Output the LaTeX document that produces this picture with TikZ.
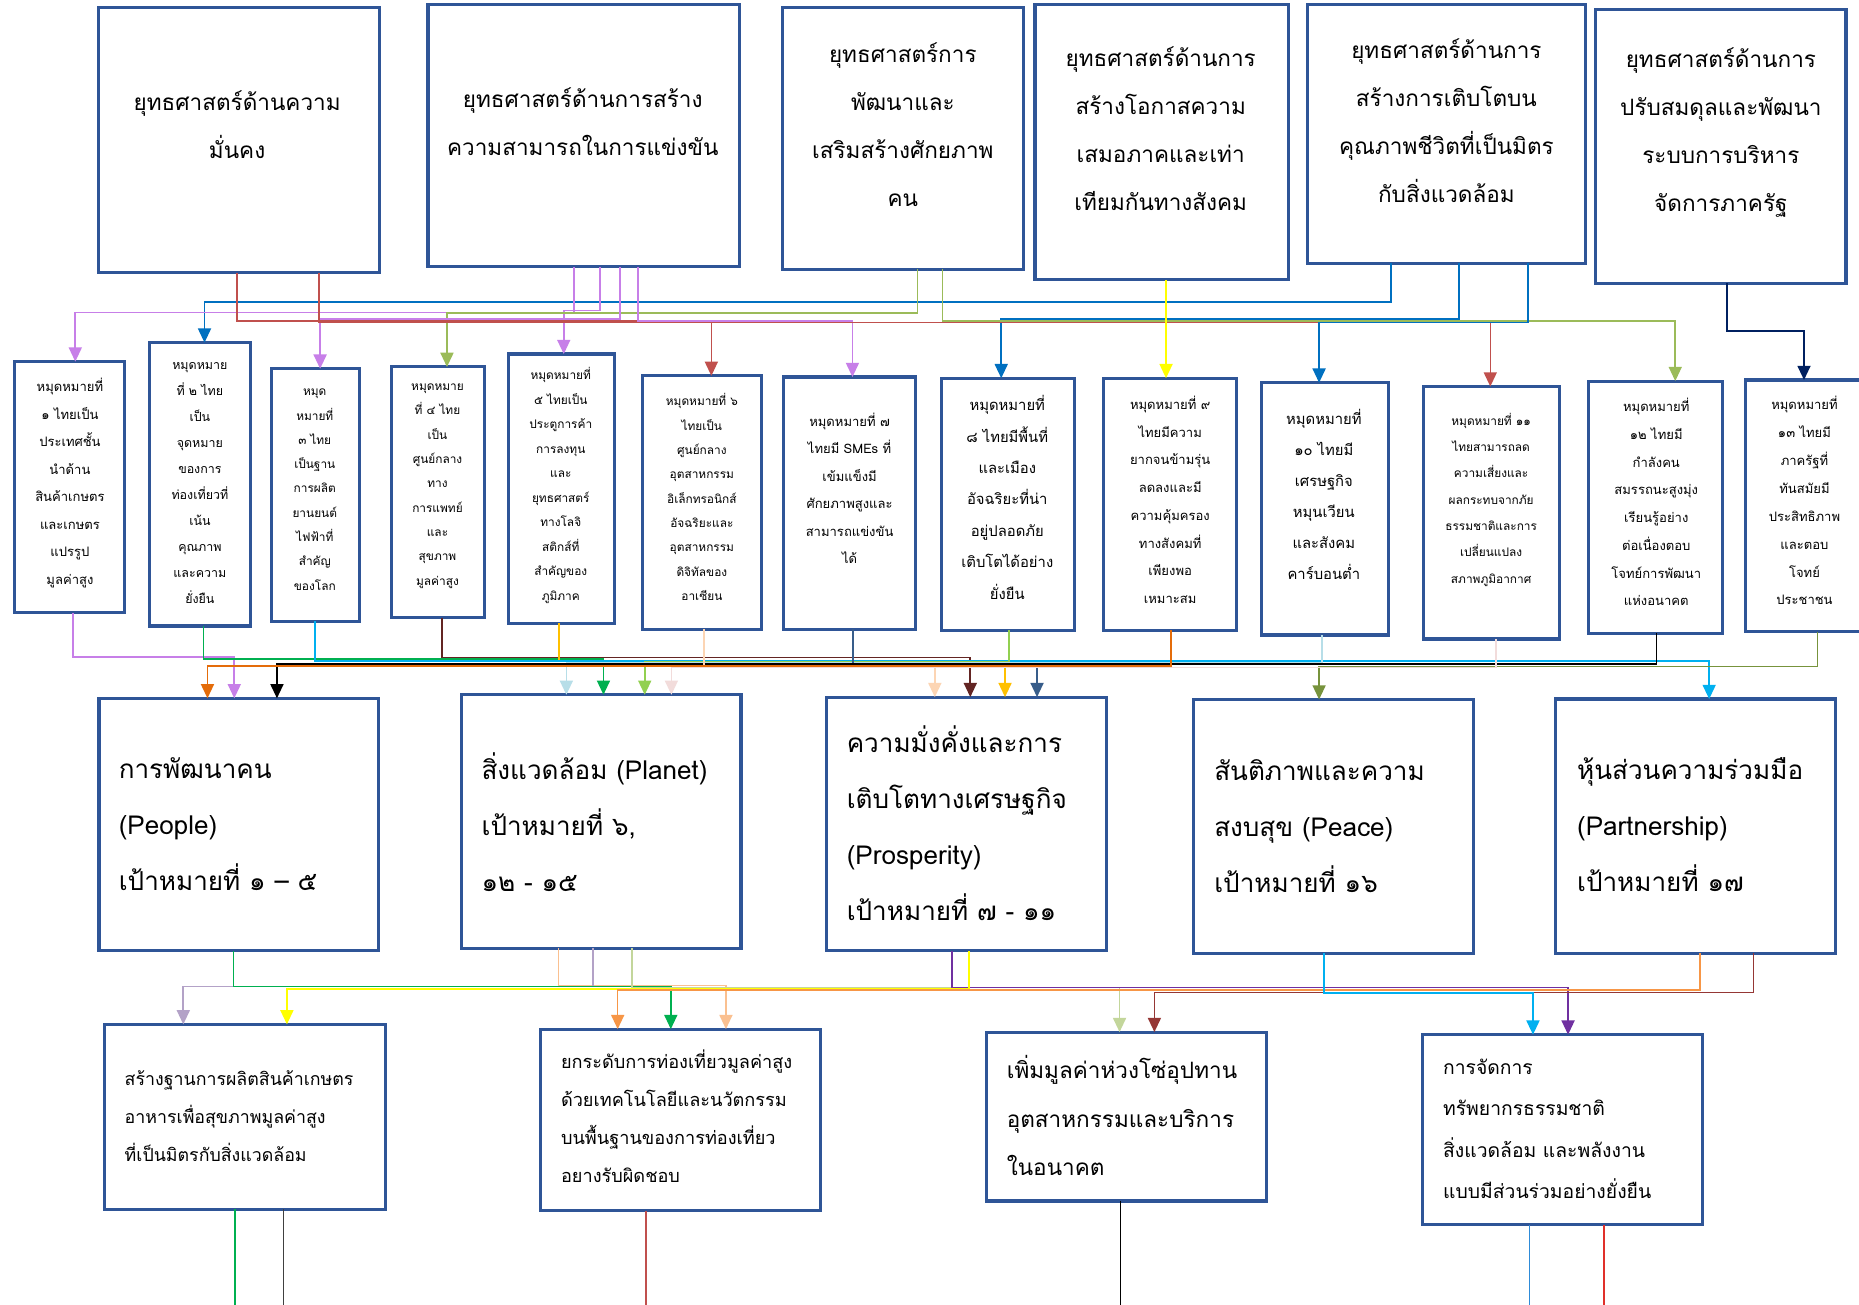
\documentclass[tikz,border=0pt]{standalone}
\usepackage{fontspec}
\newfontfamily\thai[Script=Thai]{Loma}
\usetikzlibrary{arrows.meta,fit}
\definecolor{boxc}{HTML}{2F5597}
\definecolor{cRed}{HTML}{C0504D}
\definecolor{cVio}{HTML}{C77FE8}
\definecolor{cBlue}{HTML}{0070C0}
\definecolor{cYel}{HTML}{FFFF00}
\definecolor{cGrn}{HTML}{9BBB59}
\definecolor{cNavy}{HTML}{002060}
\definecolor{cGreen}{HTML}{00B050}
\definecolor{cCyan}{HTML}{00B0F0}
\definecolor{cBrown}{HTML}{632523}
\definecolor{cGold}{HTML}{FFC000}
\definecolor{cPeach}{HTML}{FCD5B4}
\definecolor{cSteel}{HTML}{385D8A}
\definecolor{cLGreen}{HTML}{92D050}
\definecolor{cOrange}{HTML}{E46C0A}
\definecolor{cLBlue}{HTML}{B7DEE8}
\definecolor{cPink}{HTML}{F2DCDB}
\definecolor{cOlive}{HTML}{77933C}
\definecolor{cLav}{HTML}{B3A2C7}
\definecolor{cPeachB}{HTML}{FAC090}
\definecolor{cPaleG}{HTML}{C3D69B}
\definecolor{cOrangeB}{HTML}{F79646}
\definecolor{cPurple}{HTML}{7030A0}
\definecolor{cBrRed}{HTML}{953735}
\definecolor{cDark}{HTML}{404040}
\definecolor{cBlueB}{HTML}{2E8BD8}
\definecolor{cRedB}{HTML}{E0302A}
\newcommand\lk[6]{\draw[conn,color=#1] ([xshift=#3pt]#2.south west) |- (#5,#4) coordinate (lkm) -- (#6.north -| lkm);}
\begin{document}
\begin{tikzpicture}[x=1pt,y=-1pt,
  box/.style={draw=boxc,line width=2.6pt,inner sep=0pt,outer sep=0pt,fill=white},
  conn/.style={line width=1.35pt,-{Triangle[width=11pt,length=12pt]}},
  free/.style={line width=1.35pt},
  ttop/.style={font=\thai\fontsize{19}{40.5}\selectfont,align=center,inner sep=0pt},
  tmid/.style={font=\thai\fontsize{11}{23}\selectfont,align=center,inner sep=0pt},
  tpil/.style={font=\thai\fontsize{22}{47.2}\selectfont,align=left,inner sep=0pt,anchor=west},
  tbot/.style={font=\thai\fontsize{15}{32}\selectfont,align=left,inner sep=0pt,anchor=west}]
\fill[white] (0,0) rectangle (1568,1100);
\useasboundingbox (0,0) rectangle (1568,1100);
% top boxes
\node[box,fit={(83,6) (320,230)}] (T1) {};
\node[box,fit={(361,4) (624,225)}] (T2) {};
\node[box,fit={(660,6) (863,227)}] (T3) {};
\node[box,fit={(873,4) (1087,236)}] (T4) {};
\node[box,fit={(1103,4) (1337,222)}] (T5) {};
\node[box,fit={(1346,8) (1557,239)}] (T6) {};
\node[ttop] (T1t) at (200,105.5) {ยุทธศาสตร์ด้านความ\\มั่นคง};
\node[ttop] (T2t) at (491.5,102.5) {ยุทธศาสตร์ด้านการสร้าง\\ความสามารถในการแข่งขัน};
\node[ttop] (T3t) at (761.5,105) {ยุทธศาสตร์การ\\พัฒนาและ\\เสริมสร้างศักยภาพ\\คน};
\node[ttop] (T4t) at (979,108.5) {ยุทธศาสตร์ด้านการ\\สร้างโอกาสความ\\เสมอภาคและเท่า\\เทียมกันทางสังคม};
\node[ttop] (T5t) at (1220,102) {ยุทธศาสตร์ด้านการ\\สร้างการเติบโตบน\\คุณภาพชีวิตที่เป็นมิตร\\กับสิ่งแวดล้อม};
\node[ttop] (T6t) at (1451.5,112) {ยุทธศาสตร์ด้านการ\\ปรับสมดุลและพัฒนา\\ระบบการบริหาร\\จัดการภาครัฐ};
% middle boxes
\node[box,fit={(12,305) (105,517)}] (M1) {};
\node[box,fit={(126,289) (211,528)}] (M2) {};
\node[box,fit={(229,311) (303,524)}] (M3) {};
\node[box,fit={(330,309.5) (409,521)}] (M4) {};
\node[box,fit={(429,298.6) (518,525.7)}] (M5) {};
\node[box,fit={(542,317) (642,530.6)}] (M6) {};
\node[box,fit={(661,318) (772,530.6)}] (M7) {};
\node[box,fit={(794,319) (906,531.5)}] (M8) {};
\node[box,fit={(931,319) (1043,531.7)}] (M9) {};
\node[box,fit={(1064,322.8) (1171,535.6)}] (M10) {};
\node[box,fit={(1201,326) (1315,539)}] (M11) {};
\node[box,fit={(1340,321.4) (1453,534)}] (M12) {};
\node[box,fit={(1472,320.5) (1572,533)}] (M13) {};
\node[tmid,font=\thai\fontsize{11}{23.2}\selectfont] (M1t) at (59,407.5) {หมุดหมายที่\\๑ ไทยเป็น\\ประเทศชั้น\\นำด้าน\\สินค้าเกษตร\\และเกษตร\\แปรรูป\\มูลค่าสูง};
\node[tmid,font=\thai\fontsize{10.5}{21.9}\selectfont] (M2t) at (168.6,407.5) {หมุดหมาย\\ที่ ๒ ไทย\\เป็น\\จุดหมาย\\ของการ\\ท่องเที่ยวที่\\เน้น\\คุณภาพ\\และความ\\ยั่งยืน};
\node[tmid,font=\thai\fontsize{10}{20.5}\selectfont] (M3t) at (265.5,413) {หมุด\\หมายที่\\๓ ไทย\\เป็นฐาน\\การผลิต\\ยานยนต์\\ไฟฟ้าที่\\สำคัญ\\ของโลก};
\node[tmid,font=\thai\fontsize{10}{20.5}\selectfont] (M4t) at (369,410) {หมุดหมาย\\ที่ ๔ ไทย\\เป็น\\ศูนย์กลาง\\ทาง\\การแพทย์\\และ\\สุขภาพ\\มูลค่าสูง};
\node[tmid,font=\thai\fontsize{10}{20.7}\selectfont] (M5t) at (473,409.5) {หมุดหมายที่\\๕ ไทยเป็น\\ประตูการค้า\\การลงทุน\\และ\\ยุทธศาสตร์\\ทางโลจิ\\สติกส์ที่\\สำคัญของ\\ภูมิภาค};
\node[tmid,font=\thai\fontsize{10}{20.5}\selectfont] (M6t) at (592,419.3) {หมุดหมายที่ ๖\\ไทยเป็น\\ศูนย์กลาง\\อุตสาหกรรม\\อิเล็กทรอนิกส์\\อัจฉริยะและ\\อุตสาหกรรม\\ดิจิทัลของ\\อาเซียน};
\node[tmid,font=\thai\fontsize{11}{23.2}\selectfont] (M7t) at (716.6,412) {หมุดหมายที่ ๗\\ไทยมี SMEs ที่\\เข้มแข็งมี\\ศักยภาพสูงและ\\สามารถแข่งขัน\\ได้};
\node[tmid,font=\thai\fontsize{12.5}{26.5}\selectfont] (M8t) at (849.6,419.5) {หมุดหมายที่\\๘ ไทยมีพื้นที่\\และเมือง\\อัจฉริยะที่น่า\\อยู่ปลอดภัย\\เติบโตได้อย่าง\\ยั่งยืน};
\node[tmid,font=\thai\fontsize{11}{23.4}\selectfont] (M9t) at (987,421.5) {หมุดหมายที่ ๙\\ไทยมีความ\\ยากจนข้ามรุ่น\\ลดลงและมี\\ความคุ้มครอง\\ทางสังคมที่\\เพียงพอ\\เหมาะสม};
\node[tmid,font=\thai\fontsize{12.5}{26.3}\selectfont] (M10t) at (1116.6,417) {หมุดหมายที่\\๑๐ ไทยมี\\เศรษฐกิจ\\หมุนเวียน\\และสังคม\\คาร์บอนต่ำ};
\node[tmid,font=\thai\fontsize{10}{22.2}\selectfont] (M11t) at (1257.7,421.3) {หมุดหมายที่ ๑๑\\ไทยสามารถลด\\ความเสี่ยงและ\\ผลกระทบจากภัย\\ธรรมชาติและการ\\เปลี่ยนแปลง\\สภาพภูมิอากาศ};
\node[tmid,font=\thai\fontsize{11}{23.4}\selectfont] (M12t) at (1397,423.5) {หมุดหมายที่\\๑๒ ไทยมี\\กำลังคน\\สมรรถนะสูงมุ่ง\\เรียนรู้อย่าง\\ต่อเนื่องตอบ\\โจทย์การพัฒนา\\แห่งอนาคต};
\node[tmid,font=\thai\fontsize{11}{23.5}\selectfont] (M13t) at (1522,422.4) {หมุดหมายที่\\๑๓ ไทยมี\\ภาครัฐที่\\ทันสมัยมี\\ประสิทธิภาพ\\และตอบ\\โจทย์\\ประชาชน};
% pillar boxes
\node[box,fit={(83.5,589) (319,802)}] (P1) {};
\node[box,fit={(389,586) (625,800)}] (P2) {};
\node[box,fit={(697,588) (933.5,802)}] (P3) {};
\node[box,fit={(1007,590) (1242.5,804)}] (P4) {};
\node[box,fit={(1312,589.6) (1548,804)}] (P5) {};
\node[tpil] (P1t) at (100,695) {การพัฒนาคน\\(People)\\เป้าหมายที่ ๑ – ๕};
\node[tpil] (P2t) at (406,693.5) {สิ่งแวดล้อม (Planet)\\เป้าหมายที่ ๖,\\๑๒ - ๑๕};
\node[tpil] (P3t) at (714,694) {ความมั่งคั่งและการ\\เติบโตทางเศรษฐกิจ\\(Prosperity)\\เป้าหมายที่ ๗ - ๑๑};
\node[tpil] (P4t) at (1024,696.5) {สันติภาพและความ\\สงบสุข (Peace)\\เป้าหมายที่ ๑๖};
\node[tpil] (P5t) at (1330,695.5) {หุ้นส่วนความร่วมมือ\\(Partnership)\\เป้าหมายที่ ๑๗};
% bottom boxes
\node[box,fit={(88,864) (325,1020)}] (B1) {};
\node[box,fit={(456,868) (692,1021)}] (B2) {};
\node[box,fit={(832,870.5) (1068,1013)}] (B3) {};
\node[box,fit={(1200,872.7) (1436,1033)}] (B4) {};
\node[tbot] (B1t) at (105,941.5) {สร้างฐานการผลิตสินค้าเกษตร\\อาหารเพื่อสุขภาพมูลค่าสูง\\ที่เป็นมิตรกับสิ่งแวดล้อม};
\node[tbot,font=\thai\fontsize{15.3}{32}\selectfont] (B2t) at (473,941.5) {ยกระดับการท่องเที่ยวมูลค่าสูง\\ด้วยเทคโนโลยีและนวัตกรรม\\บนพื้นฐานของการท่องเที่ยว\\อยางรับผิดชอบ};
\node[tbot,font=\thai\fontsize{19}{41}\selectfont] (B3t) at (849,941) {เพิ่มมูลค่าห่วงโซ่อุปทาน\\อุตสาหกรรมและบริการ\\ในอนาคต};
\node[tbot,font=\thai\fontsize{16.3}{35}\selectfont] (B4t) at (1217,952) {การจัดการ\\ทรัพยากรธรรมชาติ\\สิ่งแวดล้อม และพลังงาน\\แบบมีส่วนร่วมอย่างยั่งยืน};
% top -> middle connectors
\lk{cBlue}{T5}{70}{254.5}{172.5}{M2}
\lk{cVio}{T2}{145}{262}{475.5}{M5}
\lk{cVio}{T2}{123}{263.5}{63.5}{M1}
\lk{cGrn}{T3}{114}{264}{377}{M4}
\lk{cVio}{T2}{162}{269}{270}{M3}
\lk{cBlue}{T5}{127.6}{269}{844.5}{M8}
\lk{cRed}{T1}{117}{270.5}{600}{M6}
\lk{cVio}{T2}{177}{270.5}{719}{M7}
\lk{cGrn}{T3}{135}{271}{1413}{M12}
\lk{cRed}{T1}{186}{272}{1257}{M11}
\lk{cBlue}{T5}{186}{272}{1112.6}{M10}
\lk{cYel}{T4}{110.5}{270}{983.5}{M9}
\lk{cNavy}{T6}{110.7}{279.2}{1521.6}{M13}
% middle -> pillar connectors
\lk{cVio}{M1}{49.5}{554.4}{197.6}{P1}
\lk{cBrown}{M4}{43}{554.7}{818.4}{P3}
\lk{cGreen}{M2}{45.6}{556}{509}{P2}
\lk{cGold}{M5}{42.7}{557.2}{847.7}{P3}
\lk{cCyan}{M3}{36.6}{557.5}{1441.6}{P5}
\lk{cLGreen}{M8}{57}{558}{543.8}{P2}
\lk{cLBlue}{M10}{51}{558.7}{477.7}{P2}
\lk{cSteel}{M7}{58.4}{560}{874.7}{P3}
\lk{black}{M12}{57.3}{560.3}{233.6}{P1}
\lk{cPeach}{M6}{51.8}{561.5}{788.5}{P3}
\lk{cOrange}{M9}{56.7}{561.7}{175}{P1}
\lk{cOlive}{M13}{61}{562.3}{1112.6}{P4}
\lk{cPink}{M11}{60.8}{563}{566.3}{P2}
% pillar -> bottom connectors
\lk{cPeachB}{P2}{82}{831.3}{612.3}{B2}
\lk{cLav}{P2}{111}{832}{154.6}{B1}
\lk{cGreen}{P1}{113.5}{832.2}{565.8}{B2}
\lk{cPaleG}{P2}{144}{833}{944.3}{B3}
\lk{cPurple}{P3}{106}{833}{1322.6}{B4}
\lk{cYel}{P3}{120.4}{834}{242}{B1}
\lk{cOrangeB}{P5}{122}{835}{521}{B2}
\lk{cBrRed}{P5}{167}{837}{973.7}{B3}
\lk{cCyan}{P4}{109.7}{837.4}{1293}{B4}
% free lines leaving the bottom row
\coordinate (e1) at (198,1104);
\coordinate (e2) at (239,1104);
\coordinate (e3) at (545,1104);
\coordinate (e4) at (945,1104);
\coordinate (e5) at (1290,1104);
\coordinate (e6) at (1353,1104);
\draw[free,cGreen] ([xshift=110pt]B1.south west) -- (e1);
\draw[free,cDark] ([xshift=151pt]B1.south west) -- (e2);
\draw[free,cRed] ([xshift=89pt]B2.south west) -- (e3);
\draw[free,black] ([xshift=113pt]B3.south west) -- (e4);
\draw[free,cBlueB] ([xshift=90pt]B4.south west) -- (e5);
\draw[free,cRedB] ([xshift=153pt]B4.south west) -- (e6);
\end{tikzpicture}
\end{document}
